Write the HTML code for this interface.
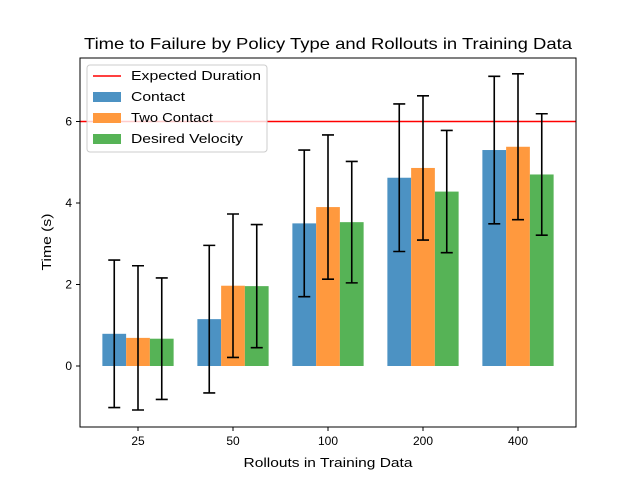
<!DOCTYPE html>
<html><head><meta charset="utf-8"><style>body{margin:0;background:#fff}svg{display:block;font-family:"Liberation Sans","DejaVu Sans",sans-serif}</style></head>
<body>
<svg id="chart" width="640" height="480" xmlns="http://www.w3.org/2000/svg">
<rect width="640" height="480" fill="#fff"/>
<text x="328" y="49" font-size="16" text-anchor="middle" textLength="488" lengthAdjust="spacingAndGlyphs">Time to Failure by Policy Type and Rollouts in Training Data</text>
<g id="plot"></g>
<text x="328" y="467" font-size="13" text-anchor="middle" textLength="169" lengthAdjust="spacingAndGlyphs">Rollouts in Training Data</text>
<text transform="translate(51,242) rotate(-90)" font-size="13" text-anchor="middle" textLength="57" lengthAdjust="spacingAndGlyphs">Time (s)</text>
</svg>
<script>
const categories=["25","50","100","200","400"];
const seriesNames=["Contact","Two Contact","Desired Velocity"];
const contactVals=[0.79,1.15,3.5,4.62,5.3];
const contactErr=[1.81,1.81,1.8,1.81,1.81];
const twoContactVals=[0.69,1.97,3.9,4.86,5.38];
const twoContactErr=[1.77,1.76,1.77,1.77,1.79];
const desiredVals=[0.67,1.96,3.53,4.28,4.7];
const desiredErr=[1.49,1.51,1.49,1.5,1.49];
const expectedDuration=6;
const yTicks=[0,2,4,6];
const colors=["#4c92c3","#ff993e","#56b356"];
const L=80,R=576,T=58,B=427,y0=366,ppu=40.75;
const y=v=>y0-v*ppu;
const x=i=>138+i*95;
const NS="http://www.w3.org/2000/svg";
const g=document.getElementById('plot');
function mk(t,a){const e=document.createElementNS(NS,t);for(const k in a)e.setAttribute(k,a[k]);g.appendChild(e);return e;}
const vals=[contactVals,twoContactVals,desiredVals],errs=[contactErr,twoContactErr,desiredErr];
const bw=23.75;
const ln=mk('line',{x1:L,x2:R,y1:y(expectedDuration),y2:y(expectedDuration),stroke:'#f00','stroke-width':1.4});


vals.forEach((s,si)=>{s.forEach((v,i)=>{
 const cx=x(i)+(si-1)*bw;
 const r=mk('rect',{x:cx-bw/2,y:Math.min(y(v),y0),width:bw,height:Math.abs(y(v)-y0),fill:colors[si]});
 
 
});});
vals.forEach((s,si)=>{s.forEach((v,i)=>{
 const cx=x(i)+(si-1)*bw,e=errs[si][i];
 const eb=mk('path',{d:`M${cx},${y(v+e)}V${y(v-e)}M${cx-6},${y(v+e)}H${cx+6}M${cx-6},${y(v-e)}H${cx+6}`,stroke:'#000','stroke-width':1.6,fill:'none'});
 
 
});});
const fr=mk('rect',{x:L,y:T,width:R-L,height:B-T,fill:'none',stroke:'#000','stroke-width':1});


yTicks.forEach(t=>{
 mk('line',{x1:L-4,x2:L,y1:y(t),y2:y(t),stroke:'#000'});
 const tx=mk('text',{x:L-8,y:y(t)+4,'font-size':12,'text-anchor':'end'});tx.textContent=t;
 
 
});
categories.forEach((c,i)=>{
 mk('line',{x1:x(i),x2:x(i),y1:B,y2:B+4,stroke:'#000'});
 const tx=mk('text',{x:x(i),y:B+18,'font-size':12,'text-anchor':'middle'});tx.textContent=c;
 
 
});
const lg=mk('rect',{x:87,y:65,width:180,height:87,rx:3,fill:'#fff','fill-opacity':0.8,stroke:'#ccc'});


mk('line',{x1:93,x2:121,y1:76,y2:76,stroke:'#f00','stroke-width':1.4});
let t0=mk('text',{x:131,y:80,'font-size':13,textLength:130,lengthAdjust:'spacingAndGlyphs'});t0.textContent="Expected Duration";


const legW=[54,82,112];
seriesNames.forEach((n,i)=>{
 const yy=97+i*21;
 mk('rect',{x:93,y:yy-5,width:28,height:10,fill:colors[i]});
 const tx=mk('text',{x:131,y:yy+4,'font-size':13,textLength:legW[i],lengthAdjust:'spacingAndGlyphs'});tx.textContent=n;
 
 
});
</script>
</body></html>
